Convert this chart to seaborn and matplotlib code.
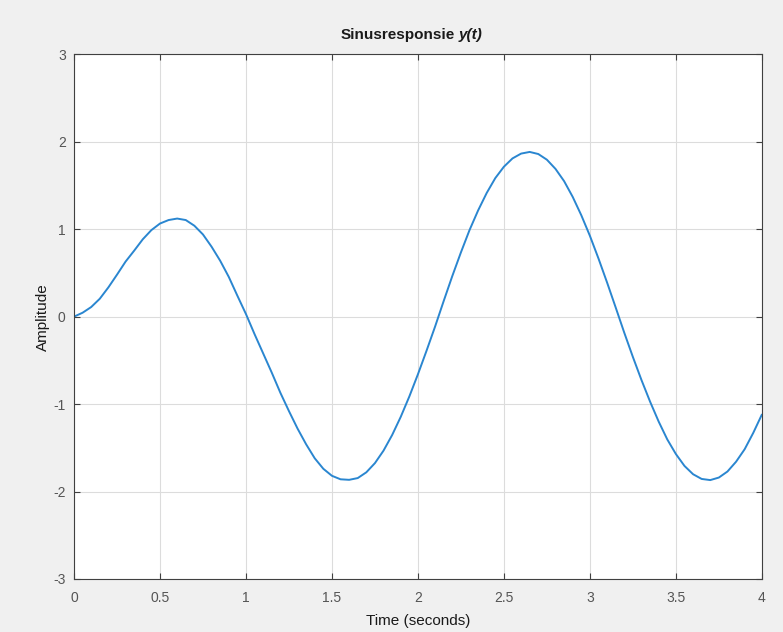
import numpy as np
import pandas as pd
import matplotlib
matplotlib.use("Agg")
import matplotlib.pyplot as plt
import seaborn as sns

# time axis (s) and response, 0.05 s apart
time_s = [
    0.00, 0.05, 0.10, 0.15, 0.20, 0.25, 0.30, 0.35, 0.40, 0.45,
    0.50, 0.55, 0.60, 0.65, 0.70, 0.75, 0.80, 0.85, 0.90, 0.95,
    1.00, 1.05, 1.10, 1.15, 1.20, 1.25, 1.30, 1.35, 1.40, 1.45,
    1.50, 1.55, 1.60, 1.65, 1.70, 1.75, 1.80, 1.85, 1.90, 1.95,
    2.00, 2.05, 2.10, 2.15, 2.20, 2.25, 2.30, 2.35, 2.40, 2.45,
    2.50, 2.55, 2.60, 2.65, 2.70, 2.75, 2.80, 2.85, 2.90, 2.95,
    3.00, 3.05, 3.10, 3.15, 3.20, 3.25, 3.30, 3.35, 3.40, 3.45,
    3.50, 3.55, 3.60, 3.65, 3.70, 3.75, 3.80, 3.85, 3.90, 3.95,
    4.00,
]
amplitude = [
    0.000, 0.045, 0.110, 0.205, 0.335, 0.480, 0.630, 0.755, 0.885, 0.990,
    1.065, 1.105, 1.122, 1.105, 1.040, 0.940, 0.800, 0.640, 0.455, 0.240,
    0.030, -0.200, -0.420, -0.640, -0.870, -1.080, -1.280, -1.460, -1.620, -1.740,
    -1.820, -1.860, -1.866, -1.846, -1.780, -1.675, -1.532, -1.354, -1.146, -0.913,
    -0.659, -0.390, -0.112, 0.180, 0.465, 0.735, 0.990, 1.215, 1.415, 1.585,
    1.715, 1.810, 1.865, 1.884, 1.860, 1.795, 1.690, 1.550, 1.370, 1.160,
    0.925, 0.665, 0.390, 0.105, -0.184, -0.461, -0.725, -0.972, -1.200, -1.404,
    -1.571, -1.707, -1.802, -1.856, -1.869, -1.840, -1.771, -1.659, -1.516, -1.329,
    -1.120,
]

x_ticks = [0, 0.5, 1, 1.5, 2, 2.5, 3, 3.5, 4]
x_labels = ["0", "0.5", "1", "1.5", "2", "2.5", "3", "3.5", "4"]
y_ticks = [-3, -2, -1, 0, 1, 2, 3]

df = pd.DataFrame({"t": time_s, "y": amplitude})

sns.set_theme(style="whitegrid")
plt.rcParams["font.family"] = ["Liberation Sans", "DejaVu Sans"]
plt.rcParams["axes.unicode_minus"] = False

fig = plt.figure(figsize=(7.83, 6.32), dpi=100, facecolor="#f0f0f0")
ax = fig.add_axes([0.0945, 0.0839, 0.8785, 0.8301])
ax.set_facecolor("white")

sns.lineplot(data=df, x="t", y="y", ax=ax, color="#2a86d0", linewidth=1.4)

ax.set_xlim(0, 4)
ax.set_ylim(-3, 3)
ax.set_xticks(x_ticks)
ax.set_xticklabels(x_labels)
ax.set_yticks(y_ticks)
ax.grid(True, color="#dcdcdc", linewidth=0.8)

for s in ax.spines.values():
    s.set_visible(True)
    s.set_color("#404040")
    s.set_linewidth(0.8)

ax.tick_params(axis="both", which="both", direction="in", length=4, width=0.8,
               color="#404040", labelcolor="#555555", labelsize=10,
               top=True, right=True, bottom=True, left=True)
ax.tick_params(axis="x", pad=9)
ax.tick_params(axis="y", pad=6)

ax.set_xlabel("Time (seconds)", fontsize=11, color="#1a1a1a", labelpad=6)
ax.set_ylabel("Amplitude", fontsize=11, color="#1a1a1a", labelpad=2)

ax.annotate("Sinusresponsie", xy=(0.553, 1.037), xycoords="axes fraction",
            ha="right", va="center", fontsize=11, fontweight="bold", color="#1a1a1a")
ax.annotate("y(t)", xy=(0.559, 1.037), xycoords="axes fraction",
            ha="left", va="center", fontsize=11, fontweight="bold",
            fontstyle="italic", color="#1a1a1a")

fig.savefig("out.png", dpi=100, facecolor=fig.get_facecolor())
